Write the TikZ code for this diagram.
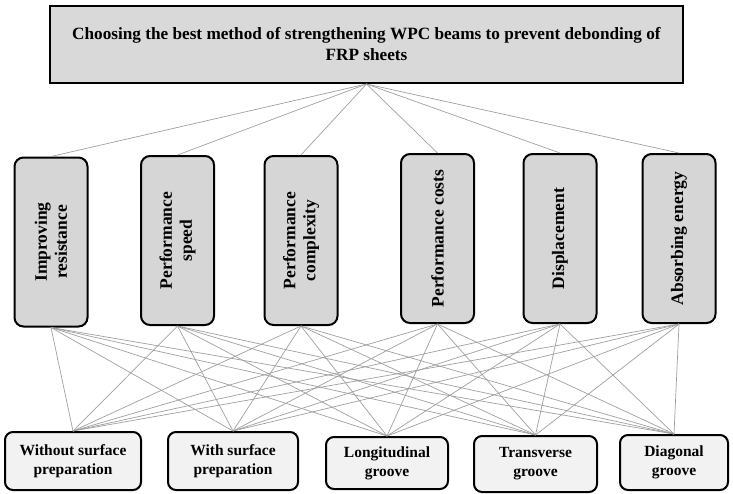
\documentclass[tikz,border=0pt]{standalone}
\usepackage{fontspec}
\setmainfont{Liberation Serif}
\begin{document}
\begin{tikzpicture}[x=1pt,y=-1pt,
  topbox/.style={draw=black, line width=2pt, fill=gray!30, minimum width=633pt, minimum height=77pt, inner sep=0pt},
  crit/.style={draw=black, line width=2pt, fill=gray!32, rounded corners=9pt, minimum width=73pt, minimum height=169pt, inner sep=0pt},
  crittext/.style={rotate=90, font=\fontsize{17.5}{20}\selectfont\bfseries, align=center, inner sep=0pt},
  alt/.style={draw=black, line width=2pt, fill=gray!10, rounded corners=8pt, inner sep=0pt, align=center, font=\fontsize{15.5}{19}\selectfont\bfseries},
  link/.style={draw=gray!75, line width=0.7pt}
]
\useasboundingbox (0,0) rectangle (733,493);
\node[topbox, align=center, font=\fontsize{17.2}{21}\selectfont\bfseries] (top) at (366.5,44.5)
  {Choosing the best method of strengthening WPC beams to prevent debonding of\\FRP sheets};
\node[crit] (c1) at (51,242) {};
\node[crit] (c2) at (177.5,240.5) {};
\node[crit] (c3) at (301,240.5) {};
\node[crit] (c4) at (437.5,238.5) {};
\node[crit] (c5) at (560,238.5) {};
\node[crit] (c6) at (679,238.5) {};
\node[crittext] (t1) at (c1) {Improving\\resistance};
\node[crittext] (t2) at (c2) {Performance\\speed};
\node[crittext] (t3) at (c3) {Performance\\complexity};
\node[crittext] (t4) at (c4) {Performance costs};
\node[crittext] (t5) at (c5) {Displacement};
\node[crittext] (t6) at (c6) {Absorbing energy};
\node[alt, minimum width=136pt, minimum height=58pt] (a1) at (73,461) {Without surface\\preparation};
\node[alt, minimum width=130pt, minimum height=58pt] (a2) at (233,461) {With surface\\preparation};
\node[alt, minimum width=122pt, minimum height=52pt] (a3) at (387,463) {Longitudinal\\groove};
\node[alt, minimum width=123pt, minimum height=56pt] (a4) at (535.5,464) {Transverse\\groove};
\node[alt, minimum width=108pt, minimum height=55pt] (a5) at (674,462.5) {Diagonal\\groove};
\foreach \c in {c1,c2,c3,c4,c5,c6}{
  \draw[link] (top.south) -- (\c.north);
  \foreach \a in {a1,a2,a3,a4,a5}{
    \draw[link] (\c.south) -- (\a.north);
  }
}
\end{tikzpicture}
\end{document}
